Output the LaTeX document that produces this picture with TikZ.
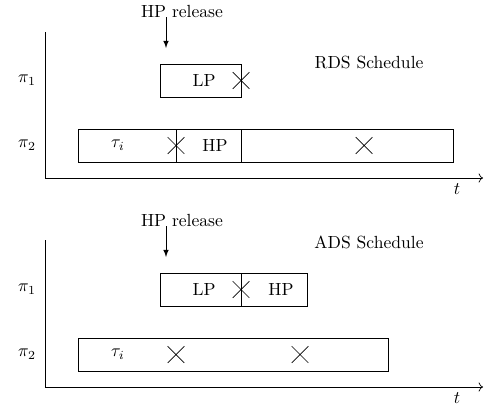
\documentclass[tikz,border=0pt]{standalone}
\usepackage{amsmath}
\usepackage{amssymb}
\usepackage{tikz}
\usetikzlibrary{shapes,positioning,calc}
\usetikzlibrary{shapes.misc}
\usetikzlibrary{arrows.meta}
\tikzstyle{slot} = [rectangle, minimum height=0.66cm, inner sep=0pt, draw=black]
\tikzstyle{fine} = [cross out, minimum size=0.32cm, inner sep=0pt, draw=black]
\tikzstyle{arrow} = [->,>=latex]
\tikzstyle{axis} = [->]

\begin{document}
\begin{tikzpicture}
				\useasboundingbox (0,0) rectangle (9.88,8.16);
				% RDS
				\coordinate (o1) at (0.9,4.6);
				\coordinate (y1) at (0.9,7.52);
				\coordinate (x1) at (9.66,4.6);
				\draw[axis] (y1) -- (o1) -- (x1);
				\node (t1) at (9.14,4.38) {$t$};
				\node (p11) at (0.54,6.55) {$\pi_1$};
				\node (p21) at (0.54,5.25) {$\pi_2$};
				\node[anchor=base] (rel1) at (3.64,7.82) {HP release};
				\coordinate (a1) at (3.32,7.2);
				\draw[arrow] (rel1.base -| a1) -- (a1);
				\node (rds) at (7.38,6.92) {RDS Schedule};
				\node (lp1) at (4.01,6.55) [slot, minimum width=1.62cm] {};
				\node at (4.08,6.55) {LP};
				\node (c1) at (4.82,6.55) [fine] {};
				\node (s1) at (2.54,5.25) [slot, minimum width=1.96cm] {};
				\node (s2) at (4.17,5.25) [slot, minimum width=1.3cm] {};
				\node (s3) at (6.94,5.25) [slot, minimum width=4.24cm] {};
				\node at (2.36,5.25) {$\tau_i$};
				\node (c2) at (3.52,5.25) [fine] {};
				\node at (4.3,5.25) {HP};
				\node (c3) at (7.28,5.25) [fine] {};
				% ADS
				\coordinate (o2) at (0.9,0.42);
				\coordinate (y2) at (0.9,3.36);
				\coordinate (x2) at (9.66,0.42);
				\draw[axis] (y2) -- (o2) -- (x2);
				\node (t2) at (9.14,0.2) {$t$};
				\node (p12) at (0.54,2.37) {$\pi_1$};
				\node (p22) at (0.54,1.07) {$\pi_2$};
				\node[anchor=base] (rel2) at (3.64,3.64) {HP release};
				\coordinate (a2) at (3.32,3.02);
				\draw[arrow] (rel2.base -| a2) -- (a2);
				\node (ads) at (7.38,3.32) {ADS Schedule};
				\node (lp2) at (4.01,2.37) [slot, minimum width=1.62cm] {};
				\node (hp2) at (5.48,2.37) [slot, minimum width=1.32cm] {};
				\node at (4.08,2.37) {LP};
				\node (c4) at (4.82,2.37) [fine] {};
				\node at (5.62,2.37) {HP};
				\node (s4) at (4.66,1.07) [slot, minimum width=6.2cm] {};
				\node at (2.36,1.07) {$\tau_i$};
				\node (c5) at (3.52,1.07) [fine] {};
				\node (c6) at (6.0,1.07) [fine] {};
				\end{tikzpicture}
\end{document}
